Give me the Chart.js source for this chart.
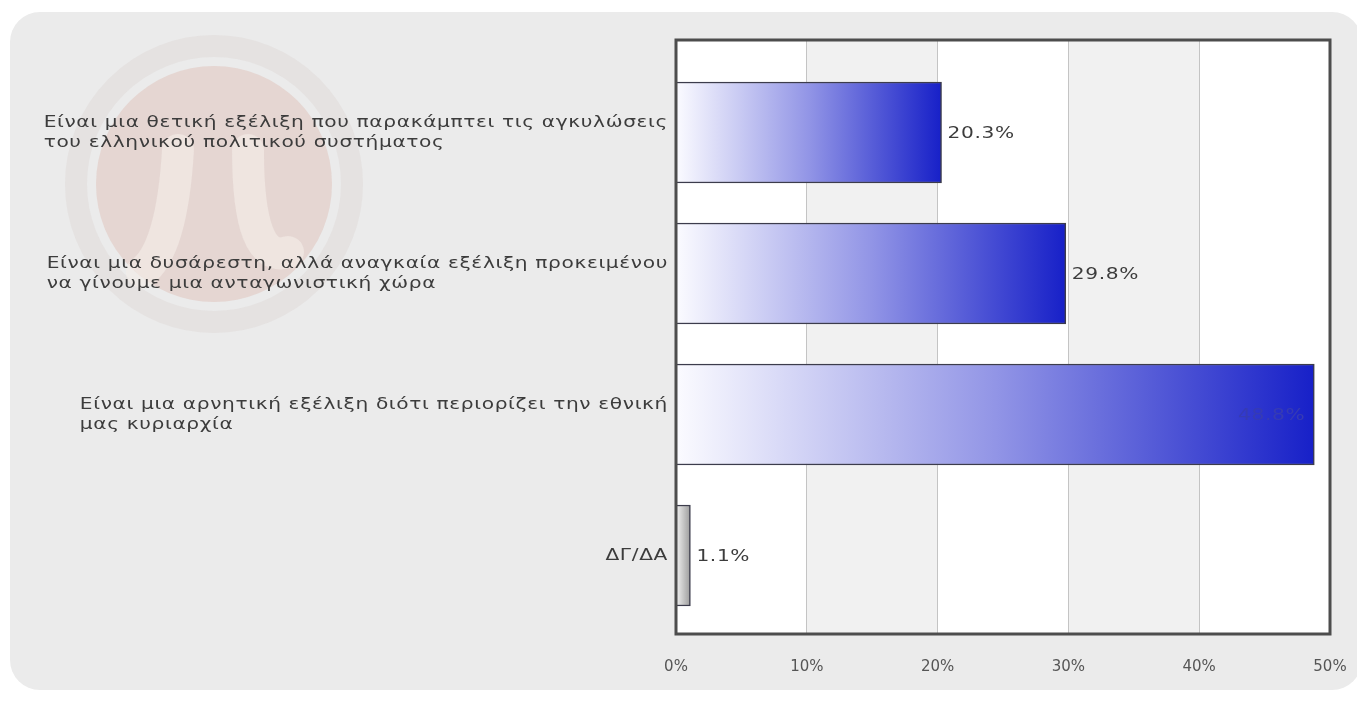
<!DOCTYPE html>
<html>
<head>
<meta charset="utf-8">
<script src="https://cdn.jsdelivr.net/npm/chart.js@4"></script>
<style>
  body { margin: 0; background: #fff; }
  #panel { position: absolute; left: 10px; top: 12px; width: 1352px; height: 678px; background: #ebebeb; border-radius: 30px; }
  #chart { position: absolute; left: 0; top: 0; }
</style>
</head>
<body>
<div id="panel"></div>
<canvas id="chart" width="1357" height="702"></canvas>
<script>
// answers (one array of lines per bar)
const categories = [
  ['Είναι μια θετική εξέλιξη που παρακάμπτει τις αγκυλώσεις', 'του ελληνικού πολιτικού συστήματος'],
  ['Είναι μια δυσάρεστη, αλλά αναγκαία εξέλιξη προκειμένου', 'να γίνουμε μια ανταγωνιστική χώρα'],
  ['Είναι μια αρνητική εξέλιξη διότι περιορίζει την εθνική', 'μας κυριαρχία'],
  ['ΔΓ/ΔΑ']
]
const values = [20.3, 29.8, 48.8, 1.1]
const xTicks = [0, 10, 20, 30, 40, 50]

const FONT = '"DejaVu Sans", Verdana, sans-serif'
const TXT = '#3c3c3c'
const SX = 1.26 // the original text is drawn wide

const barFill = (ctx) => {
  const chart = ctx.chart
  if (!chart.chartArea) return '#1720c8'
  const x = chart.scales.x
  const g = chart.ctx.createLinearGradient(x.getPixelForValue(0), 0, x.getPixelForValue(values[ctx.dataIndex]), 0)
  if (ctx.dataIndex === 3) {
    g.addColorStop(0, '#f2f2f2')
    g.addColorStop(1, '#9c9c9c')
  } else {
    g.addColorStop(0, '#fbfbff')
    g.addColorStop(0.5, '#9295e6')
    g.addColorStop(1, '#1720c8')
  }
  return g
}

// text drawn in a horizontally stretched frame
const wideText = (c, t, x, y, align) => {
  const w = c.measureText(t).width * SX
  const left = align === 'right' ? x - w : x
  c.save()
  c.translate(left, y)
  c.scale(SX, 1)
  c.textAlign = 'left'
  c.fillText(t, 0, 0)
  c.restore()
}

const decor = {
  id: 'decor',
  beforeDraw(chart) {
    const c = chart.ctx
    const a = chart.chartArea
    const x = chart.scales.x
    // faded logo
    c.save()
    c.globalAlpha = 0.3
    c.strokeStyle = '#d6cdca'
    c.lineWidth = 22
    c.beginPath(); c.arc(214, 184, 138, 0, Math.PI * 2); c.stroke()
    c.fillStyle = '#d6a797'
    c.beginPath(); c.arc(214, 184, 118, 0, Math.PI * 2); c.fill()
    c.globalAlpha = 0.6
    c.strokeStyle = '#f4ece8'
    c.lineWidth = 32
    c.lineCap = 'round'
    c.beginPath(); c.moveTo(178, 150); c.quadraticCurveTo(172, 250, 142, 272); c.stroke()
    c.beginPath(); c.moveTo(248, 150); c.quadraticCurveTo(248, 265, 288, 252); c.stroke()
    c.restore()
    // plot background with bands
    c.save()
    for (let i = 0; i < xTicks.length - 1; i++) {
      const l = x.getPixelForValue(xTicks[i])
      const r = x.getPixelForValue(xTicks[i + 1])
      c.fillStyle = i % 2 ? '#f1f1f1' : '#ffffff'
      c.fillRect(l, a.top, r - l, a.bottom - a.top)
    }
    c.restore()
  },
  afterDraw(chart) {
    const c = chart.ctx
    const a = chart.chartArea
    const y = chart.scales.y
    const meta = chart.getDatasetMeta(0)
    c.save()
    c.strokeStyle = '#4d4d4d'
    c.lineWidth = 3
    c.strokeRect(a.left, a.top, a.right - a.left, a.bottom - a.top)

    c.font = '16px ' + FONT
    c.letterSpacing = '0.5px'
    c.textBaseline = 'middle'
    c.fillStyle = TXT
    // category labels, left aligned block ending near the axis
    categories.forEach((lines, i) => {
      const w = Math.max(...lines.map(t => c.measureText(t).width)) * SX
      const cy = y.getPixelForValue(i)
      const left = a.left - 8 - w
      lines.forEach((t, j) => {
        wideText(c, t, left, cy + (j - (lines.length - 1) / 2) * 20, 'left')
      })
    })
    // value labels
    meta.data.forEach((bar, i) => {
      const label = values[i].toFixed(1) + '%'
      if (values[i] > 45) {
        c.fillStyle = '#363bb4'
        wideText(c, label, bar.x - 9, bar.y + 1, 'right')
      } else {
        c.fillStyle = TXT
        wideText(c, label, bar.x + 6, bar.y + 1, 'left')
      }
    })
    c.restore()
  }
}

new Chart(document.getElementById('chart'), {
  type: 'bar',
  data: {
    datasets: [{
      data: values.map((v, i) => ({ x: v, y: i })),
      backgroundColor: barFill,
      borderColor: '#3c3c4c',
      borderWidth: 1.5,
      barThickness: 101
    }]
  },
  options: {
    indexAxis: 'y',
    responsive: false,
    animation: false,
    devicePixelRatio: 1,
    layout: { padding: { left: 676, right: 27, top: 40, bottom: 0 } },
    plugins: { legend: { display: false }, tooltip: { enabled: false } },
    scales: {
      x: {
        min: 0,
        max: 50,
        afterBuildTicks: s => { s.ticks = xTicks.map(v => ({ value: v })) },
        afterFit: s => { s.height = 68; s.paddingLeft = 0; s.paddingRight = 0 },
        grid: { color: '#c4c4c4', drawTicks: false },
        border: { display: false },
        ticks: {
          padding: 24,
          color: '#555',
          font: { family: FONT, size: 15 },
          callback: v => v + '%'
        }
      },
      y: {
        type: 'linear',
        reverse: true,
        offset: false,
        min: -0.656,
        max: 3.557,
        display: false
      }
    }
  },
  plugins: [decor]
})
</script>
</body>
</html>
